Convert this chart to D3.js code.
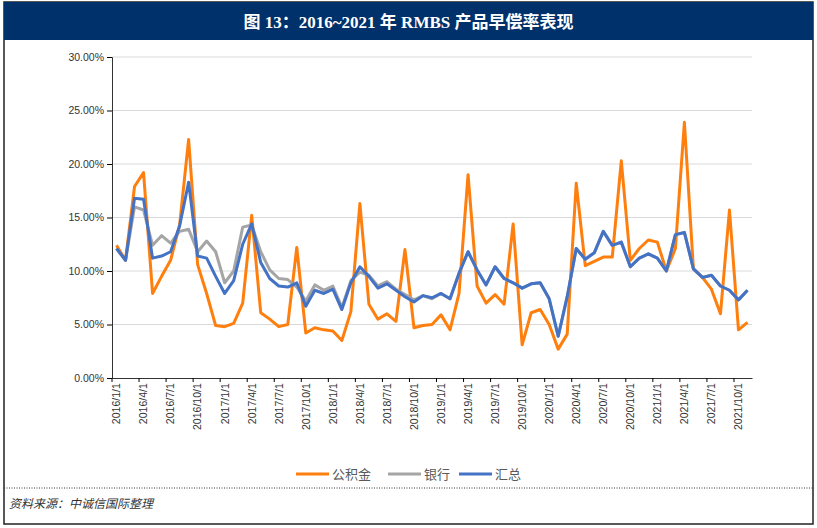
<!DOCTYPE html>
<html><head><meta charset="utf-8">
<script src="https://cdn.jsdelivr.net/npm/d3@7"></script>
<style>body{margin:0;background:#fff}</style>
</head><body><svg id="chart" width="817" height="528"></svg>
<script>
// monthly prepayment rate (%), 2016/1 .. 2021/11
const gjj = [12.4,11.0,17.9,19.2,7.9,9.5,11.0,14.3,22.3,10.6,7.9,4.9,4.8,5.1,7.0,15.2,6.1,5.5,4.8,5.0,
  12.2,4.2,4.7,4.5,4.4,3.5,6.2,16.3,6.9,5.5,6.0,5.3,12.0,4.7,4.9,5.0,5.9,4.5,7.9,19.0,
  8.6,7.0,7.8,6.9,14.4,3.1,6.1,6.4,5.0,2.7,4.1,18.2,10.5,10.9,11.3,11.3,20.3,11.0,12.1,12.9,
  12.7,10.0,12.1,23.9,10.2,9.4,8.3,6.0,15.7,4.5,5.2];
const bank = [12.1,11.0,16.0,15.7,12.4,13.3,12.6,13.7,13.9,11.8,12.8,11.8,8.9,10.0,14.1,14.3,11.8,10.1,9.3,9.2,
  8.5,7.2,8.7,8.2,8.6,6.6,9.1,9.9,9.6,8.6,9.0,8.3,7.8,7.3,7.7,7.4,7.9,7.4,9.8,11.8,
  10.1,8.7,10.4,9.3,8.9,8.4,8.8,8.9,7.4,3.9,7.6,12.1,11.1,11.7,13.7,12.4,12.7,10.4,11.2,11.6,
  11.2,10.0,13.4,13.6,10.2,9.4,9.6,8.6,8.2,7.3,8.2];
const total = [12.1,11.0,16.8,16.7,11.2,11.4,11.8,14.2,18.3,11.4,11.2,9.5,7.9,9.1,12.5,14.4,10.8,9.3,8.6,8.5,
  8.9,6.7,8.2,7.9,8.3,6.4,8.9,10.4,9.5,8.4,8.8,8.2,7.6,7.1,7.7,7.5,7.9,7.4,9.8,11.8,
  10.1,8.7,10.4,9.3,8.9,8.4,8.8,8.9,7.4,3.9,7.6,12.1,11.1,11.7,13.7,12.4,12.7,10.4,11.2,11.6,
  11.2,10.0,13.4,13.6,10.2,9.4,9.6,8.6,8.2,7.3,8.2];
const months = d3.range(gjj.length).map(i => `${2016 + Math.floor(i / 12)}/${i % 12 + 1}/1`);
const yTicks = [0,5,10,15,20,25,30];
const seriesNames = ["公积金","银行","汇总"];
const colors = ["#ff7f0e","#a5a5a5","#4472c4"];

const svg = d3.select("#chart");
const W = 817, H = 528;
svg.append("rect").attr("x",4).attr("y",2).attr("width",W-8).attr("height",H-6)
  .attr("fill","#fff").attr("stroke","#222").attr("stroke-width",1.5);
svg.append("rect").attr("x",4).attr("y",2).attr("width",W-8).attr("height",38).attr("fill","#00316a");
svg.append("text").attr("x",W/2).attr("y",28).attr("text-anchor","middle")
  .attr("fill","#fff").attr("font-family","'Liberation Serif','Noto Sans CJK SC',serif")
  .attr("font-weight","bold").attr("font-size",17)
  .text("图 13：2016~2021 年 RMBS 产品早偿率表现");

const x = d3.scaleBand().domain(months).range([112, 752]);
const y = d3.scaleLinear().domain([0,30]).range([378, 57]);

svg.append("g").selectAll("line").data(yTicks.slice(1)).join("line")
  .attr("x1",112).attr("x2",752).attr("y1",d=>y(d)).attr("y2",d=>y(d))
  .attr("stroke","#d9d9d9");

svg.append("g").attr("transform","translate(112,0)")
  .call(d3.axisLeft(y).tickValues(yTicks).tickSize(5).tickFormat(d => d.toFixed(2) + "%"))
  .call(g => g.select(".domain").attr("stroke","#333"))
  .call(g => g.selectAll("text").attr("font-family","'Liberation Sans',Arial").attr("font-size",10.5).attr("fill","#333"));

svg.append("g").attr("transform","translate(0,378)")
  .call(d3.axisBottom(x).tickValues(months.filter((d,i) => i % 3 === 0)).tickSize(4).tickSizeOuter(0))
  .call(g => g.select(".domain").attr("stroke","#333"))
  .call(g => g.selectAll(".tick line").attr("transform",`translate(${-x.bandwidth()/2},0)`))
  .call(g => g.selectAll("text").attr("font-family","'Liberation Sans',Arial").attr("font-size",10.5).attr("fill","#333")
    .attr("text-anchor","end").attr("dx","-0.5em").attr("dy","-0.3em").attr("transform","rotate(-90)"));

const line = d3.line().x((d,i) => x(months[i]) + x.bandwidth()/2).y(d => y(d));
[gjj, bank, total].forEach((s,k) => {
  const order = [1,0,2][k];
  svg.append("path").datum(s).attr("fill","none").attr("stroke",colors[k])
    .attr("stroke-width",3).attr("stroke-linejoin","round").attr("d",line);
});

const lg = svg.append("g").selectAll("g").data(seriesNames).join("g")
  .attr("transform",(d,i) => `translate(${[296,388,459][i]},474)`);
lg.append("line").attr("x1",0).attr("x2",33).attr("stroke",(d,i)=>colors[i]).attr("stroke-width",3);
lg.append("text").attr("x",36).attr("y",5).attr("font-size",13).attr("fill","#595959")
  .attr("font-family","'Noto Sans CJK SC'").text(d => d);

svg.append("line").attr("x1",4).attr("x2",W-4).attr("y1",488).attr("y2",488)
  .attr("stroke","#333").attr("stroke-dasharray","1,1.5");
svg.append("text").attr("x",9).attr("y",508).attr("font-size",12).attr("font-style","italic")
  .attr("fill","#333").attr("font-family","'Noto Sans CJK SC'").text("资料来源：中诚信国际整理");
</script></body></html>
